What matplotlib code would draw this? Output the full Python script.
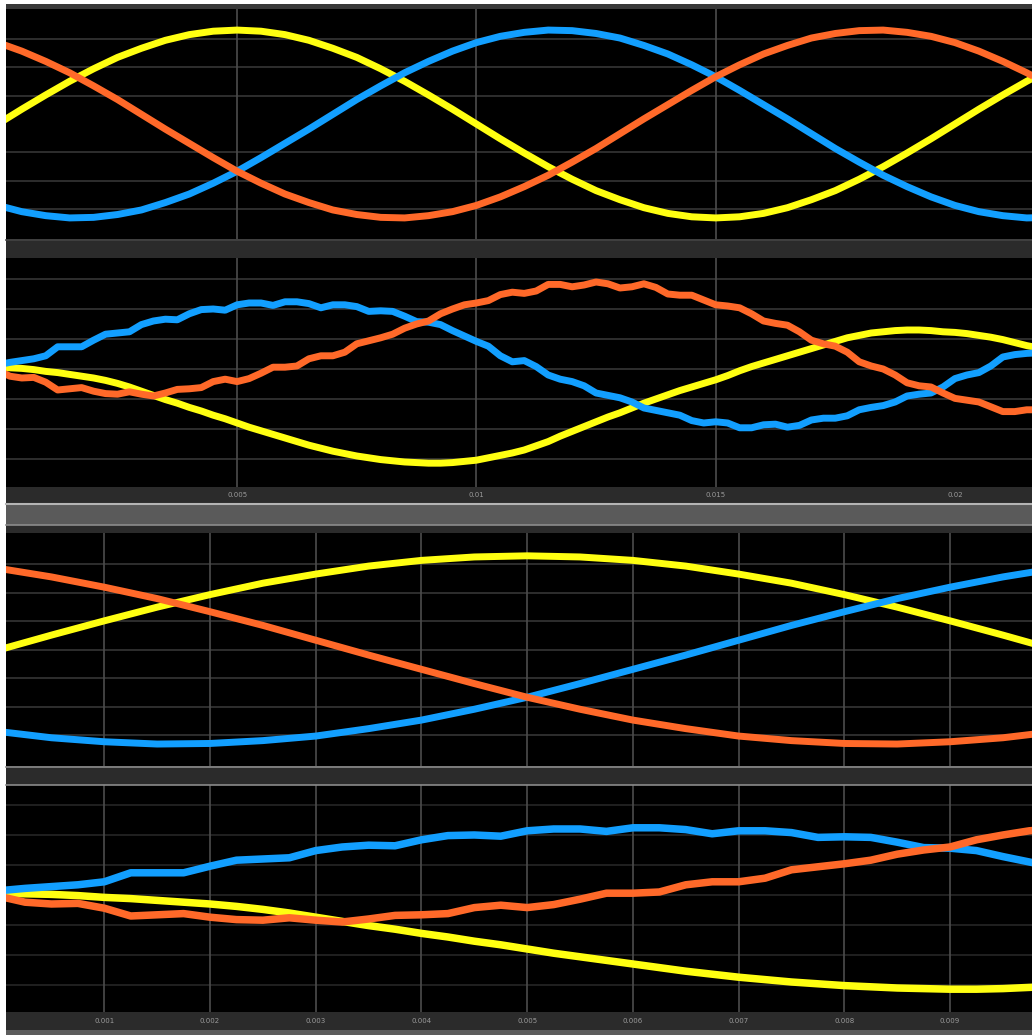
import numpy as np
import matplotlib
matplotlib.use("Agg")
import matplotlib.pyplot as plt
from matplotlib.patches import Rectangle
from matplotlib.lines import Line2D
from matplotlib.transforms import blended_transform_factory

# ---------------------------------------------------------------------------
# Data
# ---------------------------------------------------------------------------
# Ideal three-phase source, sampled every 0.5 ms
t_ideal = np.arange(45) * 0.0005
yellow_ideal = [0.00, 0.26, 0.51, 0.75, 0.97, 1.17, 1.33, 1.47, 1.57, 1.63,
                1.65, 1.63, 1.57, 1.47, 1.33, 1.17, 0.97, 0.75, 0.51, 0.26,
                0.00, -0.26, -0.51, -0.75, -0.97, -1.17, -1.33, -1.47, -1.57, -1.63,
                -1.65, -1.63, -1.57, -1.47, -1.33, -1.17, -0.97, -0.75, -0.51, -0.26,
                0.00, 0.26, 0.51, 0.75, 0.97]
blue_ideal = [-1.43, -1.54, -1.61, -1.65, -1.64, -1.59, -1.51, -1.38, -1.23, -1.04,
              -0.83, -0.59, -0.34, -0.09, 0.17, 0.43, 0.67, 0.90, 1.10, 1.28,
              1.43, 1.54, 1.61, 1.65, 1.64, 1.59, 1.51, 1.38, 1.23, 1.04,
              0.83, 0.59, 0.34, 0.09, -0.17, -0.43, -0.67, -0.90, -1.10, -1.28,
              -1.43, -1.54, -1.61, -1.65, -1.64]
orange_ideal = [1.43, 1.28, 1.10, 0.90, 0.67, 0.43, 0.17, -0.09, -0.34, -0.59,
                -0.83, -1.04, -1.23, -1.38, -1.51, -1.59, -1.64, -1.65, -1.61, -1.54,
                -1.43, -1.28, -1.10, -0.90, -0.67, -0.43, -0.17, 0.09, 0.34, 0.59,
                0.83, 1.04, 1.23, 1.38, 1.51, 1.59, 1.64, 1.65, 1.61, 1.54,
                1.43, 1.28, 1.10, 0.90, 0.67]

# Measured phase signals with switching ripple, sampled every 0.25 ms
t_meas = np.arange(88) * 0.00025
blue_meas = [0.07, 0.11, 0.14, 0.17, 0.22, 0.37, 0.37, 0.37, 0.48, 0.58,
             0.60, 0.62, 0.74, 0.80, 0.83, 0.82, 0.92, 0.99, 1.00, 0.98,
             1.07, 1.10, 1.10, 1.06, 1.12, 1.12, 1.09, 1.02, 1.07, 1.07,
             1.04, 0.96, 0.97, 0.96, 0.88, 0.79, 0.78, 0.74, 0.64, 0.55,
             0.46, 0.38, 0.22, 0.12, 0.14, 0.04, -0.10, -0.17, -0.21, -0.28,
             -0.40, -0.44, -0.48, -0.55, -0.65, -0.69, -0.73, -0.77, -0.86, -0.90,
             -0.88, -0.90, -0.98, -0.98, -0.93, -0.92, -0.97, -0.94, -0.85, -0.82,
             -0.82, -0.78, -0.68, -0.64, -0.61, -0.55, -0.45, -0.42, -0.40, -0.30,
             -0.16, -0.10, -0.06, 0.05, 0.20, 0.24, 0.26, 0.27]
orange_meas = [-0.02, -0.12, -0.15, -0.14, -0.22, -0.35, -0.33, -0.31, -0.37, -0.41,
               -0.42, -0.38, -0.42, -0.45, -0.40, -0.34, -0.33, -0.31, -0.21, -0.17,
               -0.21, -0.16, -0.07, 0.03, 0.03, 0.05, 0.17, 0.22, 0.22, 0.28,
               0.42, 0.47, 0.52, 0.58, 0.68, 0.75, 0.80, 0.92, 1.00, 1.07,
               1.10, 1.14, 1.24, 1.28, 1.26, 1.30, 1.41, 1.41, 1.37, 1.40,
               1.45, 1.42, 1.35, 1.37, 1.42, 1.36, 1.25, 1.23, 1.23, 1.15,
               1.07, 1.05, 1.02, 0.92, 0.80, 0.76, 0.73, 0.62, 0.48, 0.42,
               0.38, 0.28, 0.12, 0.05, 0.00, -0.10, -0.23, -0.28, -0.30, -0.40,
               -0.49, -0.52, -0.55, -0.63, -0.71, -0.71, -0.68, -0.68]
yellow_meas = [0.03, 0.02, 0.01, -0.01, -0.04, -0.06, -0.09, -0.12, -0.15, -0.19,
               -0.24, -0.30, -0.37, -0.44, -0.51, -0.57, -0.64, -0.70, -0.77, -0.83,
               -0.90, -0.97, -1.03, -1.09, -1.15, -1.21, -1.27, -1.32, -1.37, -1.41,
               -1.45, -1.48, -1.51, -1.53, -1.55, -1.56, -1.57, -1.57, -1.56, -1.54,
               -1.52, -1.48, -1.44, -1.40, -1.35, -1.28, -1.21, -1.12, -1.04, -0.96,
               -0.88, -0.80, -0.73, -0.65, -0.57, -0.50, -0.43, -0.36, -0.30, -0.24,
               -0.18, -0.11, -0.03, 0.04, 0.10, 0.16, 0.22, 0.28, 0.34, 0.40,
               0.46, 0.52, 0.56, 0.60, 0.62, 0.64, 0.65, 0.65, 0.64, 0.62,
               0.61, 0.59, 0.56, 0.53, 0.49, 0.44, 0.39, 0.35]

# Axis ticks / labels
wide_ticks = [0.005, 0.01, 0.015, 0.02]
wide_labels = ["0.005", "0.01", "0.015", "0.02"]
wide_vgrid = [0.005, 0.01, 0.015]
zoom_ticks = [0.001, 0.002, 0.003, 0.004, 0.005, 0.006, 0.007, 0.008, 0.009]
zoom_labels = ["0.001", "0.002", "0.003", "0.004", "0.005",
               "0.006", "0.007", "0.008", "0.009"]
hgrid_ideal_top = [-1.5, -1.0, -0.5, 0.5, 1.0, 1.5]
hgrid_ideal = [-1.5, -1.0, -0.5, 0.0, 0.5, 1.0, 1.5]
hgrid_meas = [-1.5, -1.0, -0.5, 0.0, 0.5, 1.0, 1.5]

# ---------------------------------------------------------------------------
# Styling
# ---------------------------------------------------------------------------
C_YEL = "#ffff11"
C_BLU = "#129fff"
C_ORG = "#ff6929"
BAR = "#2b2b2b"
W, H = 1032, 1035

fig = plt.figure(figsize=(W / 100, H / 100), dpi=100)
fig.patch.set_facecolor("white")


def box(x0, y0, x1, y1):
    return [x0 / W, 1 - y1 / H, (x1 - x0) / W, (y1 - y0) / H]


def band(y0, y1, color, x0=6, x1=W):
    fig.add_artist(Rectangle((x0 / W, 1 - y1 / H), (x1 - x0) / W, (y1 - y0) / H,
                             transform=fig.transFigure, facecolor=color,
                             edgecolor="none", zorder=0))


def hline(y, color, lw=1.2, x0=6, x1=W):
    fig.add_artist(Line2D([x0 / W, x1 / W], [1 - y / H, 1 - y / H],
                          transform=fig.transFigure, color=color, lw=lw, zorder=1))


# frame bands between the scope displays
band(4, 9, "#383838")
band(239, 258, BAR)
hline(239.5, "#444444")
band(487, 503, BAR)
band(503, 525, "#5a5a5a")
hline(504, "#b4b4b4", lw=1.5)
hline(524.5, "#8c8c8c", lw=1.2)
band(525, 533, BAR)
band(766, 785, BAR)
hline(766.5, "#8a8a8a", lw=1.2)
hline(784.5, "#8a8a8a", lw=1.2)
band(1012, 1030, BAR)
band(1030, 1035, "#5c5c5c")


def make_axes(rect, xlim, ylim):
    ax = fig.add_axes(rect)
    ax.set_facecolor("black")
    ax.set_xlim(*xlim)
    ax.set_ylim(*ylim)
    for s in ax.spines.values():
        s.set_visible(False)
    ax.set_xticks([])
    ax.set_yticks([])
    return ax


def draw_grid(ax, hvals, vvals, hcol="#363636", vcol="#4c4c4c"):
    for v in hvals:
        ax.axhline(v, color=hcol, lw=1.2, zorder=1)
    for v in vvals:
        ax.axvline(v, color=vcol, lw=1.2, zorder=1)


def draw_traces(ax, t, ys, lw=5.0):
    for y, c in zip(ys, (C_YEL, C_BLU, C_ORG)):
        ax.plot(t, y, color=c, lw=lw, solid_joinstyle="round",
                solid_capstyle="butt", zorder=3)


def tick_labels(ax, ticks, labels, ypix_below):
    tr = blended_transform_factory(ax.transData, fig.transFigure)
    for x, s in zip(ticks, labels):
        ax.text(x, 1 - ypix_below / H, s, transform=tr, ha="center", va="center",
                fontsize=5.0, color="#9a9a9a", clip_on=False)


wide_xlim = (0.00017, 0.02161)
zoom_xlim = (0.00007, 0.009775)

ax1 = make_axes(box(6, 9, W, 239), wide_xlim, (-2.02, 2.02))
draw_grid(ax1, hgrid_ideal_top, wide_vgrid)
draw_traces(ax1, t_ideal, (yellow_ideal, blue_ideal, orange_ideal))

ax2 = make_axes(box(6, 258, W, 487), wide_xlim, (-1.967, 1.85))
draw_grid(ax2, hgrid_meas, wide_vgrid)
draw_traces(ax2, t_meas, (yellow_meas, blue_meas, orange_meas))
tick_labels(ax2, wide_ticks, wide_labels, 495)

ax3 = make_axes(box(6, 533, W, 766), zoom_xlim, (-2.035, 2.05))
draw_grid(ax3, hgrid_ideal, zoom_ticks)
draw_traces(ax3, t_ideal, (yellow_ideal, blue_ideal, orange_ideal))

ax4 = make_axes(box(6, 785, W, 1012), zoom_xlim, (-1.95, 1.833))
draw_grid(ax4, hgrid_meas, zoom_ticks, hcol="#262626")
draw_traces(ax4, t_meas, (yellow_meas, blue_meas, orange_meas), lw=5.4)
tick_labels(ax4, zoom_ticks, zoom_labels, 1021)

fig.savefig("out.png", dpi=100, facecolor=fig.get_facecolor())
